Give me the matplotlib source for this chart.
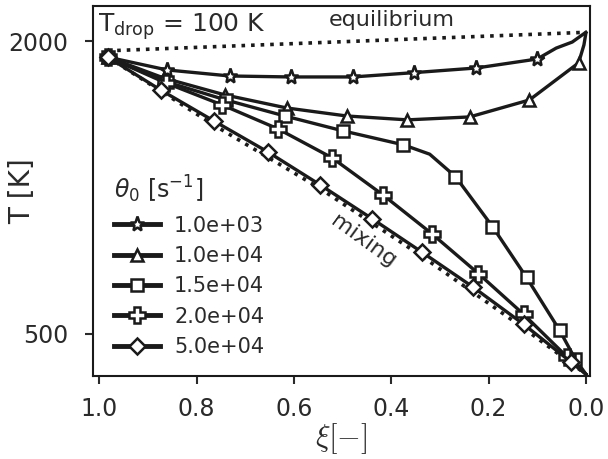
import numpy as np
import matplotlib
matplotlib.use('Agg')
import matplotlib.pyplot as plt

# Xi [-] and T [K] along each curve
xi_star = [0.983, 0.861, 0.732, 0.607, 0.479, 0.354, 0.225, 0.100, 0.061, 0.028, 0.0]
T_star = [1918, 1852, 1821, 1816, 1816, 1838, 1862, 1908, 1964, 1995, 2045]
mk_star = [0, 1, 2, 3, 4, 5, 6, 7]

xi_tri = [0.983, 0.868, 0.742, 0.615, 0.492, 0.367, 0.239, 0.116, 0.015, 0.004, 0.0]
T_tri = [1918, 1811, 1724, 1657, 1616, 1596, 1611, 1698, 1888, 1980, 2040]
mk_tri = [0, 1, 2, 3, 4, 5, 6, 7, 8]

xi_sq = [0.983, 0.861, 0.740, 0.619, 0.500, 0.375, 0.321, 0.268, 0.192, 0.122, 0.054, 0.022, 0.0]
T_sq = [1918, 1790, 1698, 1616, 1540, 1468, 1420, 1305, 1049, 788, 517, 370, 292]
mk_sq = [0, 1, 2, 3, 4, 5, 7, 8, 9, 10, 11]

xi_pl = [0.983, 0.863, 0.748, 0.633, 0.522, 0.418, 0.317, 0.221, 0.128, 0.038, 0.0]
T_pl = [1918, 1785, 1673, 1550, 1402, 1213, 1013, 808, 599, 379, 292]
mk_pl = [0, 1, 2, 3, 4, 5, 6, 7, 8, 9]

xi_dia = [0.983, 0.874, 0.765, 0.654, 0.547, 0.440, 0.336, 0.231, 0.128, 0.030, 0.0]
T_dia = [1918, 1749, 1591, 1432, 1264, 1090, 916, 737, 548, 353, 292]
mk_dia = [0, 1, 2, 3, 4, 5, 6, 7, 8, 9]

xi_eq = [0.983, 0.0]
T_eq = [1950, 2045]

xi_mix = [0.983, 0.765, 0.547, 0.336, 0.128, 0.0]
T_mix = [1918, 1570, 1245, 895, 528, 292]

labels = ['1.0e+03', '1.0e+04', '1.5e+04', '2.0e+04', '5.0e+04']

col = '#1a1a1a'
txt = '#2a2a2a'

fig = plt.figure(figsize=(6.08, 4.59), dpi=100)
ax = fig.add_axes([0.153, 0.181, 0.817, 0.806])

ax.plot(xi_eq, T_eq, ':', color=col, lw=2.6)
ax.plot(xi_mix, T_mix, ':', color=col, lw=2.6)

series = [
    (xi_star, T_star, mk_star, '*', 11),
    (xi_tri, T_tri, mk_tri, '^', 9),
    (xi_sq, T_sq, mk_sq, 's', 9),
    (xi_pl, T_pl, mk_pl, 'P', 11.5),
    (xi_dia, T_dia, mk_dia, 'D', 8.5),
]
for (x, y, mk, m, ms), lab in zip(series, labels):
    ax.plot(x, y, '-', color=col, lw=2.4, marker=m, ms=ms, markevery=mk,
            mfc='white', mec=col, mew=1.8, label=lab)

ax.set_xlim(1.013, -0.008)
ax.set_ylim(283, 2180)
ax.set_xticks([1.0, 0.8, 0.6, 0.4, 0.2, 0.0])
ax.set_xticklabels(['1.0', '0.8', '0.6', '0.4', '0.2', '0.0'])
ax.set_yticks([500, 2000])
ax.tick_params(labelsize=17, width=1.5, length=5.5, colors=txt)
ax.tick_params(axis='x', pad=10)
ax.tick_params(axis='y', pad=12)
for s in ax.spines.values():
    s.set_linewidth(1.5)
    s.set_color(col)

ax.set_ylabel('T [K]', fontsize=20, color=txt)
ax.yaxis.set_label_coords(-0.115, 0.5)
ax.set_xlabel(r'$\xi[-]$', fontsize=22, color=txt, math_fontfamily='cm', labelpad=0)

ax.text(0.01, 0.985, r'T$_{\rm drop}$ = 100 K', transform=ax.transAxes,
        fontsize=18, color=txt, ha='left', va='top')
ax.text(0.399, 2107, 'equilibrium', fontsize=16, color=txt, ha='center', va='center')
ax.text(0.458, 975, 'mixing', fontsize=16, color=txt, ha='center', va='center', rotation=-36)

leg = ax.legend(loc='lower left', bbox_to_anchor=(0.004, 0.0), frameon=False,
                fontsize=15, title=r'$\theta_0$ [s$^{-1}$]', title_fontsize=17,
                handlelength=2.2, handletextpad=0.7, labelspacing=0.5,
                borderaxespad=0.5)
leg._legend_box.align = 'left'
for t in leg.get_texts():
    t.set_color(txt)
leg.get_title().set_color(txt)
for l in leg.get_lines():
    l.set_linewidth(3.5)

fig.savefig('out.png', dpi=100)
